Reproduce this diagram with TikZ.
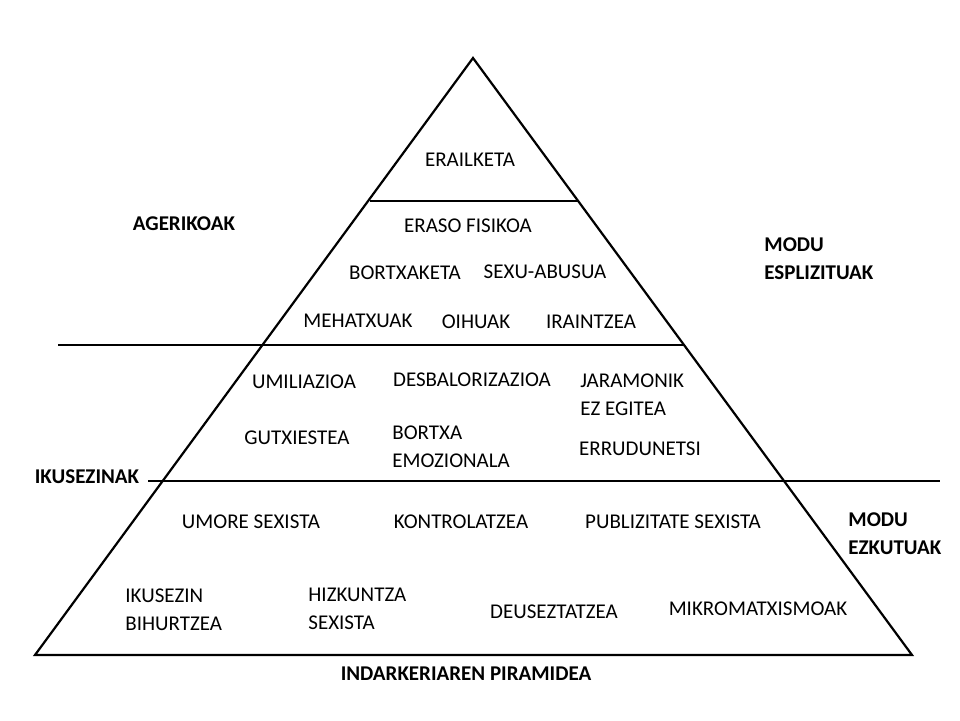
\documentclass[tikz,border=0pt]{standalone}
\usepackage{fontspec}
\setmainfont{Carlito}
\tikzset{lbl/.style={inner sep=0pt,font=\fontsize{10.5}{14}\selectfont}}
\tikzset{lbll/.style={lbl,anchor=west,align=left}}
\tikzset{side/.style={lbl,font=\fontsize{10.5}{14}\selectfont\bfseries}}
\tikzset{edge/.style={line width=1.1pt}}
\begin{document}
\begin{tikzpicture}[x=0.5pt,y=-0.5pt]
    \useasboundingbox (0,0) rectangle (960,720);
    % Pyramid
    \coordinate (apex) at (473,58);
    \coordinate (bl) at (35,655);
    \coordinate (br) at (912,655);
    \draw[edge] (apex) -- (bl) -- (br) -- cycle;
    \coordinate (t1) at (370,201);
    \coordinate (t2) at (578,201);
    \coordinate (m1) at (58,345);
    \coordinate (m2) at (683,345);
    \coordinate (b1) at (148,481);
    \coordinate (b2) at (940,481);
    \draw[edge] (t1) -- (t2);
    \draw[edge] (m1) -- (m2);
    \draw[edge] (b1) -- (b2);
    % Top
    \node[lbl] (erail) at (470,160) {ERAILKETA};
    \node[lbl] (eraso) at (468,226) {ERASO FISIKOA};
    \node[lbl] (bortx) at (405,273) {BORTXAKETA};
    \node[lbl] (sexu) at (545,272) {SEXU-ABUSUA};
    \node[lbl] (meh) at (358,321) {MEHATXUAK};
    \node[lbl] (oih) at (476,322) {OIHUAK};
    \node[lbl] (irain) at (591,322) {IRAINTZEA};
    % Middle
    \node[lbl] (umil) at (304,382) {UMILIAZIOA};
    \node[lbl] (desb) at (472,380) {DESBALORIZAZIOA};
    \node[lbll] (jara) at (580,395) {JARAMONIK\\EZ EGITEA};
    \node[lbl] (gutx) at (297,438) {GUTXIESTEA};
    \node[lbll] (emoz) at (392,447) {BORTXA\\EMOZIONALA};
    \node[lbl] (erru) at (640,449) {ERRUDUNETSI};
    % Bottom
    \node[lbl] (umore) at (251,522) {UMORE SEXISTA};
    \node[lbl] (kontr) at (461,522) {KONTROLATZEA};
    \node[lbl] (publi) at (673,522) {PUBLIZITATE SEXISTA};
    \node[lbll] (ikus) at (125,610) {IKUSEZIN\\BIHURTZEA};
    \node[lbll] (hizk) at (308,609) {HIZKUNTZA\\SEXISTA};
    \node[lbl] (deus) at (554,612) {DEUSEZTATZEA};
    \node[lbl] (mikro) at (758,609) {MIKROMATXISMOAK};
    % Labels
    \node[side] (titl) at (466,674) {INDARKERIAREN PIRAMIDEA};
    \node[side] (ager) at (184,224) {AGERIKOAK};
    \node[side,anchor=west,align=left] (espl) at (764,259) {MODU\\ESPLIZITUAK};
    \node[side] (ikusez) at (87,477) {IKUSEZINAK};
    \node[side,anchor=west,align=left] (ezku) at (848,534) {MODU\\EZKUTUAK};
\end{tikzpicture}
\end{document}
